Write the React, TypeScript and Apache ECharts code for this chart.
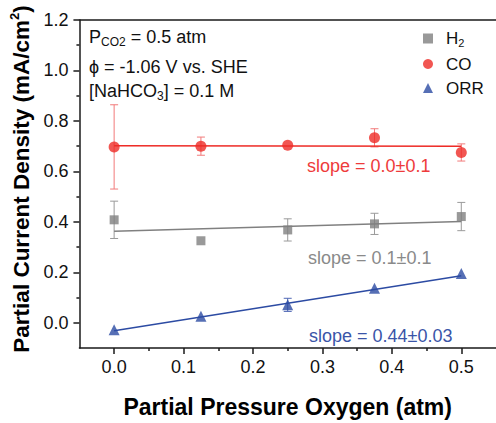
import React, { useEffect, useRef } from "react";
import * as echarts from "echarts";

const xValues = [0, 0.125, 0.25, 0.375, 0.5];
const h2Values = [0.408, 0.325, 0.368, 0.392, 0.421];
const h2Errors = [0.074, 0, 0.044, 0.042, 0.056];
const coValues = [0.697, 0.7, 0.704, 0.733, 0.675];
const coErrors = [0.167, 0.036, 0, 0.036, 0.034];
const orrValues = [-0.028, 0.026, 0.071, 0.137, 0.195];
const orrErrors = [0, 0, 0.026, 0, 0];

const fitX = [0, 0.5];
const coFit = [0.702, 0.7];
const h2Fit = [0.363, 0.401];
const orrFit = [-0.032, 0.186];

const xTickLabels = [0, 0.1, 0.2, 0.3, 0.4, 0.5];
const xMinorTicks = [0.05, 0.15, 0.25, 0.35, 0.45];
const yTickLabels = [0, 0.2, 0.4, 0.6, 0.8, 1.0, 1.2];
const yMinorTicks = [0.1, 0.3, 0.5, 0.7, 0.9, 1.1];

const seriesNames = ["H2", "CO", "ORR"];
const slopeTexts = ["slope = 0.0\u00b10.1", "slope = 0.1\u00b10.1", "slope = 0.44\u00b10.03"];

const FONT = "'Liberation Sans', Arial, Helvetica, sans-serif";
const RED = "#ee2c27";
const GRAY = "#808080";
const BLUE = "#2c4ba3";
const AXIS = "#1a1a1a";

function errData(vals: number[], errs: number[]) {
  return xValues
    .map((x, i) => [x, vals[i], errs[i]])
    .filter((d) => d[2] > 0);
}

function errSeries(vals: number[], errs: number[], color: string) {
  return {
    type: "custom",
    silent: true,
    z: 1,
    encode: { x: 0, y: 1 },
    data: errData(vals, errs),
    renderItem: (params: any, api: any) => {
      const x = api.value(0);
      const y = api.value(1);
      const e = api.value(2);
      const top = api.coord([x, y + e]);
      const bot = api.coord([x, y - e]);
      const hw = 4;
      const style = { stroke: color, lineWidth: 1 };
      return {
        type: "group",
        children: [
          { type: "line", shape: { x1: top[0], y1: top[1], x2: bot[0], y2: bot[1] }, style },
          { type: "line", shape: { x1: top[0] - hw, y1: top[1], x2: top[0] + hw, y2: top[1] }, style },
          { type: "line", shape: { x1: bot[0] - hw, y1: bot[1], x2: bot[0] + hw, y2: bot[1] }, style },
        ],
      };
    },
  };
}

function fitSeries(vals: number[], color: string) {
  return {
    type: "line",
    silent: true,
    z: 2,
    showSymbol: false,
    symbol: "none",
    data: fitX.map((x, i) => [x, vals[i]]),
    lineStyle: { color, width: 1.5 },
  };
}

export default function App() {
  const ref = useRef<HTMLDivElement>(null);

  useEffect(() => {
    if (!ref.current) return;
    const chart = echarts.init(ref.current, null, { renderer: "svg" });

    const axisLabelBase = { fontSize: 18, color: "#111", fontFamily: FONT };

    const option: any = {
      animation: false,
      backgroundColor: "#fff",
      grid: { left: 76, top: 20, right: -3, bottom: 65, containLabel: false },
      xAxis: [
        {
          type: "value",
          position: "bottom",
          min: -0.05,
          max: 0.55,
          axisLine: { onZero: false, lineStyle: { color: AXIS, width: 1.5 } },
          axisTick: { customValues: xTickLabels, length: 6, lineStyle: { color: AXIS, width: 1.5 } },
          axisLabel: { ...axisLabelBase, customValues: xTickLabels, margin: 10, formatter: (v: number) => v.toFixed(1) },
          splitLine: { show: false },
          name: "Partial Pressure Oxygen (atm)",
          nameLocation: "middle",
          nameGap: 47,
          nameTextStyle: { fontSize: 23, fontWeight: "bold", color: "#000", fontFamily: FONT },
        },
        {
          type: "value",
          position: "bottom",
          min: -0.05,
          max: 0.55,
          axisLine: { show: false, onZero: false },
          axisTick: { customValues: xMinorTicks, length: 3, lineStyle: { color: AXIS, width: 1.5 } },
          axisLabel: { show: false },
          splitLine: { show: false },
        },
        {
          type: "value",
          position: "top",
          min: -0.05,
          max: 0.55,
          axisLine: { show: true, onZero: false, lineStyle: { color: AXIS, width: 1.5 } },
          axisTick: { show: false },
          axisLabel: { show: false },
          splitLine: { show: false },
        },
      ],
      yAxis: [
        {
          type: "value",
          position: "left",
          min: -0.1,
          max: 1.2,
          axisLine: { show: true, onZero: false, lineStyle: { color: AXIS, width: 1.5 } },
          axisTick: { show: true, customValues: yTickLabels, length: 6, lineStyle: { color: AXIS, width: 1.5 } },
          axisLabel: { ...axisLabelBase, customValues: yTickLabels, margin: 11, formatter: (v: number) => v.toFixed(1) },
          splitLine: { show: false },
          name: "{a|Partial Current Density (mA/cm}{sup|2}{a|)}",
          nameLocation: "middle",
          nameGap: 39,
          nameTextStyle: {
            fontSize: 22.5,
            fontWeight: "bold",
            color: "#000",
            fontFamily: FONT,
            padding: [0, 0, 0, 10],
            rich: {
              a: { fontSize: 22.5, fontWeight: "bold", color: "#000", fontFamily: FONT, lineHeight: 26 },
              sup: { fontSize: 13, fontWeight: "bold", color: "#000", fontFamily: FONT, lineHeight: 14, verticalAlign: "top" },
            },
          },
        },
        {
          type: "value",
          position: "left",
          min: -0.1,
          max: 1.2,
          axisLine: { show: false, onZero: false },
          axisTick: { show: true, customValues: yMinorTicks, length: 3, lineStyle: { color: AXIS, width: 1.5 } },
          axisLabel: { show: false },
          splitLine: { show: false },
        },
      ],
      legend: {
        data: seriesNames,
        orient: "vertical",
        left: 418,
        top: 25,
        itemWidth: 10,
        itemHeight: 10,
        itemGap: 7,
        selectedMode: false,
        formatter: (name: string) => (name === "H2" ? "{a|H}{sub|2}" : "{a|" + name + "}"),
        textStyle: {
          fontSize: 17,
          color: "#111",
          fontFamily: FONT,
          rich: {
            a: { fontSize: 17, color: "#111", fontFamily: FONT, lineHeight: 20, padding: [0, 0, 0, 8] },
            sub: { fontSize: 11, color: "#111", fontFamily: FONT, lineHeight: 11, verticalAlign: "bottom" },
          },
        },
      },
      graphic: [
        {
          type: "text",
          x: 89,
          y: 37,
          style: {
            text: "{a|P}{sub|CO2}{a| = 0.5 atm}",
            verticalAlign: "middle",
            align: "left",
            rich: {
              a: { fontSize: 18, fill: "#111", fontFamily: FONT, lineHeight: 22 },
              sub: { fontSize: 12, fill: "#111", fontFamily: FONT, lineHeight: 12, verticalAlign: "bottom" },
            },
          },
        },
        {
          type: "text",
          x: 89,
          y: 67,
          style: { text: "\u03d5 = -1.06 V vs. SHE", fontSize: 18, fill: "#111", fontFamily: FONT, verticalAlign: "middle", align: "left" },
        },
        {
          type: "text",
          x: 89,
          y: 91,
          style: {
            text: "{a|[NaHCO}{sub|3}{a|] = 0.1 M}",
            verticalAlign: "middle",
            align: "left",
            rich: {
              a: { fontSize: 18, fill: "#111", fontFamily: FONT, lineHeight: 22 },
              sub: { fontSize: 12, fill: "#111", fontFamily: FONT, lineHeight: 12, verticalAlign: "bottom" },
            },
          },
        },
        {
          type: "text",
          x: 307,
          y: 166,
          style: { text: slopeTexts[0], fontSize: 18, fill: "#ee3b3b", fontFamily: FONT, verticalAlign: "middle", align: "left" },
        },
        {
          type: "text",
          x: 308,
          y: 257.5,
          style: { text: slopeTexts[1], fontSize: 18, fill: "#8a8a8a", fontFamily: FONT, verticalAlign: "middle", align: "left" },
        },
        {
          type: "text",
          x: 309,
          y: 336,
          style: { text: slopeTexts[2], fontSize: 18, fill: "#3a55a8", fontFamily: FONT, verticalAlign: "middle", align: "left" },
        },
      ],
      series: [
        errSeries(h2Values, h2Errors, "#9a9a9a"),
        errSeries(coValues, coErrors, "#f27a7a"),
        errSeries(orrValues, orrErrors, "#5068b5"),
        fitSeries(h2Fit, GRAY),
        fitSeries(coFit, RED),
        fitSeries(orrFit, BLUE),
        {
          name: "H2",
          type: "scatter",
          z: 3,
          symbol: "rect",
          symbolSize: 9,
          itemStyle: { color: GRAY },
          data: xValues.map((x, i) => [x, h2Values[i]]),
        },
        {
          name: "CO",
          type: "scatter",
          z: 3,
          symbol: "circle",
          symbolSize: 11,
          itemStyle: { color: RED },
          data: xValues.map((x, i) => [x, coValues[i]]),
        },
        {
          name: "ORR",
          type: "scatter",
          z: 3,
          symbol: "triangle",
          symbolSize: 11,
          itemStyle: { color: BLUE },
          data: xValues.map((x, i) => [x, orrValues[i]]),
        },
      ],
    };

    chart.setOption(option);
    return () => chart.dispose();
  }, []);

  return (
    <div
      ref={ref}
      style={{ position: "absolute", left: 0, top: 0, width: 496, height: 423, background: "#fff" }}
    />
  );
}
